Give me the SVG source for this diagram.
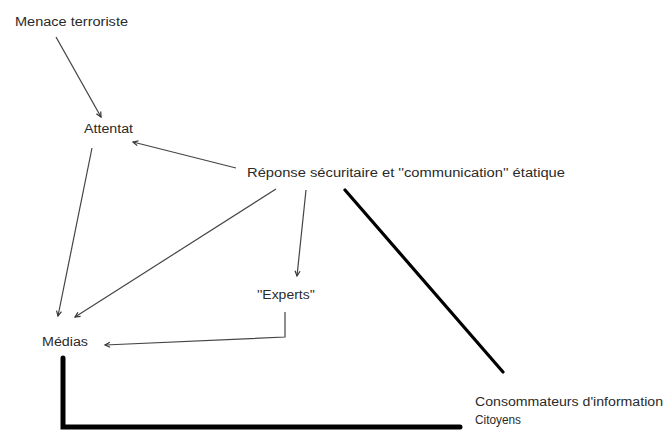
<svg xmlns="http://www.w3.org/2000/svg" width="666" height="430" viewBox="0 0 666 430">
<style>
text{font-family:"Liberation Sans",Arial,sans-serif;font-size:12px;fill:#2a2a2a}
.c{fill:none;stroke:#444;stroke-width:1.2}
.t{fill:none;stroke:#000;stroke-linecap:round}
</style>
<defs>
<marker id="a" markerWidth="8" markerHeight="8" refX="6" refY="4" orient="auto" markerUnits="userSpaceOnUse">
<path d="M1,1.5 L6,4 L1,6.5" fill="none" stroke="#333" stroke-width="1.2"/>
</marker>
</defs>
<rect width="666" height="430" fill="#fff"/>
<g id="connectors">
<line class="c" x1="56" y1="37" x2="101" y2="117" marker-end="url(#a)"/>
<line class="c" x1="236" y1="168" x2="133" y2="142" marker-end="url(#a)"/>
<line class="c" x1="92" y1="148" x2="58" y2="316" marker-end="url(#a)"/>
<line class="c" x1="276" y1="189" x2="75" y2="317" marker-end="url(#a)"/>
<line class="c" x1="306" y1="190" x2="297" y2="276" marker-end="url(#a)"/>
<polyline class="c" points="285,312 285,337 105,345" marker-end="url(#a)"/>
<line class="t" stroke-width="3.2" x1="345" y1="190" x2="503" y2="372"/>
<polyline class="t" stroke-width="5" stroke-linecap="butt" points="63,358 63,427 460,427"/>
</g>
<g id="menace"><text x="15" y="26" textLength="113" lengthAdjust="spacingAndGlyphs">Menace terroriste</text></g>
<g id="attentat"><text x="84" y="133" textLength="49" lengthAdjust="spacingAndGlyphs">Attentat</text></g>
<g id="reponse"><text x="247" y="177" textLength="318" lengthAdjust="spacingAndGlyphs">Réponse sécuritaire et ''communication'' étatique</text></g>
<g id="experts"><text x="257" y="299" textLength="58" lengthAdjust="spacingAndGlyphs">''Experts''</text></g>
<g id="medias"><text x="42" y="346" textLength="46" lengthAdjust="spacingAndGlyphs">Médias</text></g>
<g id="consommateurs"><text x="475" y="406" textLength="188" lengthAdjust="spacingAndGlyphs">Consommateurs d'information</text><text x="475" y="424" textLength="46" lengthAdjust="spacingAndGlyphs">Citoyens</text></g>
</svg>
